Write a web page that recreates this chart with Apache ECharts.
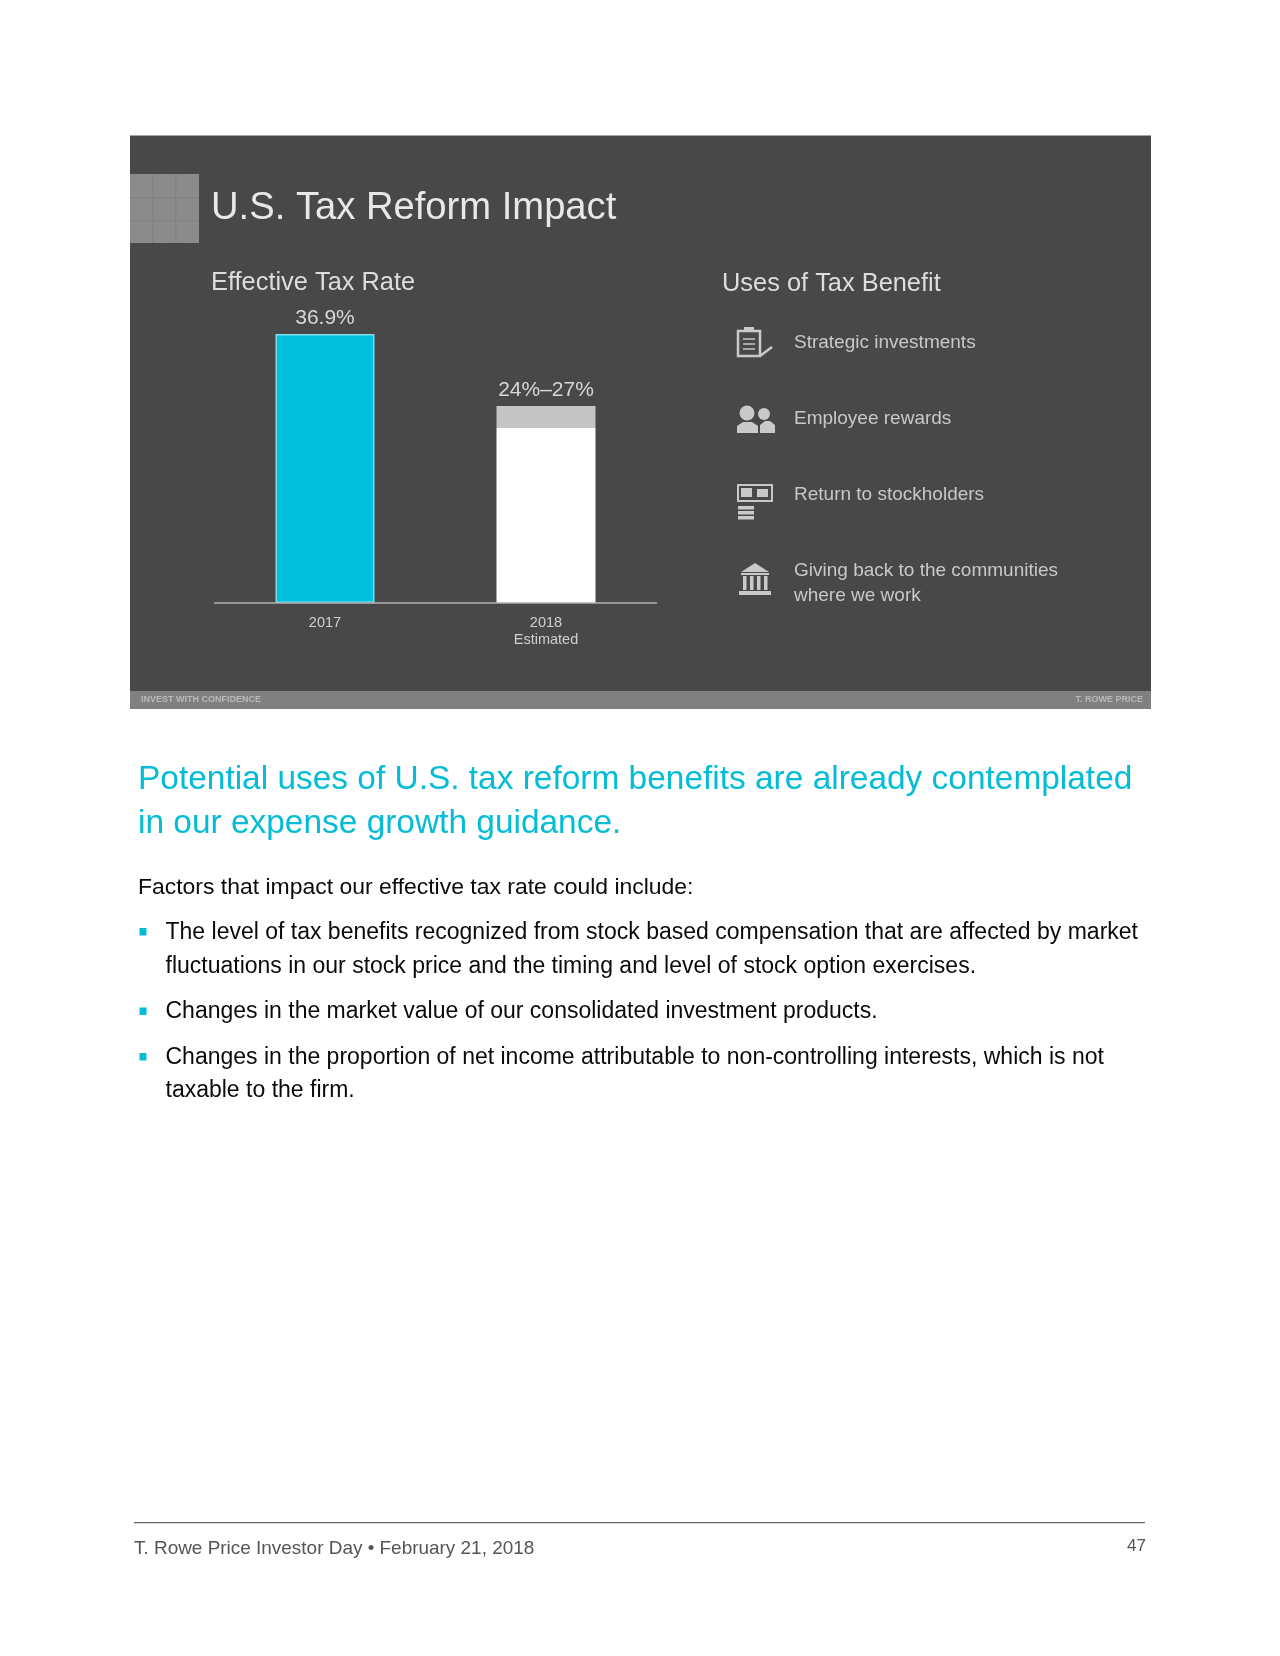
<!DOCTYPE html>
<html><head><meta charset="utf-8">
<style>html,body{margin:0;padding:0;background:#fff}#c{width:1280px;height:1656px}</style>
<script src="https://cdn.jsdelivr.net/npm/echarts@6/dist/echarts.min.js"></script>
</head><body><div id="c"></div>
<script>
const categories = ['2017', '2018\nEstimated'];
const baseValues = [36.9, 24];
const rangeValues = [null, 3];
const valueLabels = ['36.9%', '24%–27%'];
const slideTitle = 'U.S. Tax Reform Impact';
const chartTitle = 'Effective Tax Rate';
const usesTitle = 'Uses of Tax Benefit';
const usesItems = ['Strategic investments', 'Employee rewards', 'Return to stockholders', 'Giving back to the communities', 'where we work'];
const headingLines = ['Potential uses of U.S. tax reform benefits are already contemplated', 'in our expense growth guidance.'];
const introLine = 'Factors that impact our effective tax rate could include:';
const bulletLines = ['The level of tax benefits recognized from stock based compensation that are affected by market', 'fluctuations in our stock price and the timing and level of stock option exercises.', 'Changes in the market value of our consolidated investment products.', 'Changes in the proportion of net income attributable to non-controlling interests, which is not', 'taxable to the firm.'];
const footerLeft = 'T. Rowe Price Investor Day • February 21, 2018';
const footerPage = '47';
const stripLeft = 'INVEST WITH CONFIDENCE';
const stripRight = 'T. ROWE PRICE';

const F = '"Liberation Sans", Arial, sans-serif';
const CYAN = '#00c0e0', TEAL = '#05bcd6';
function txt(text, x, y, size, fill, blur, extra) {
  const style = Object.assign({text, x, y, fontSize:size, fontFamily:F, fill, textAlign:'left'}, blur?{shadowBlur:blur, shadowColor:fill}:{}, extra||{});
  return {type:'text', z:3, style};
}
function rect(x,y,w,h,fill,z){return {type:'rect',z:z===undefined?1:z,shape:{x,y,width:w,height:h},style:{fill}};}
function strokeRect(x,y,w,h,c,lw){return {type:'rect',z:3,shape:{x,y,width:w,height:h},style:{fill:'none',stroke:c,lineWidth:lw}};}
function circ(cx,cy,r,c){return {type:'circle',z:3,shape:{cx,cy,r},style:{fill:c}};}
function line(x1,y1,x2,y2,c,lw){return {type:'line',z:3,shape:{x1,y1,x2,y2},style:{stroke:c,lineWidth:lw}};}
function poly(points,c){return {type:'polygon',z:3,shape:{points},style:{fill:c}};}

const IC = '#c9c9c9';
const g = [];
g.push(rect(130,135.5,1021,573.5,'#484848',0));
g.push(rect(130,691,1021,18,'#808080',1));
g.push(rect(130,174,69,69,'#8b8b8b',1));
[152,175].forEach(x=>g.push(rect(x,174,1.5,69,'#838383',2)));
[197,220].forEach(y=>g.push(rect(130,y,69,1.5,'#838383',2)));
g.push(txt(slideTitle,211,189,38.2,'#e8e8e8',1.5));
g.push(txt(chartTitle,211,270.5,25.4,'#dddddd',1));
g.push(txt(usesTitle,722,271.5,25.4,'#dddddd',1));
const ys = [333,409,485,561,586];
usesItems.forEach((t,i)=>g.push(txt(t,794,ys[i],19,'#c8c8c8',1)));
g.push(txt(stripLeft,141,695,9,'#b8b8b8',2,{fontWeight:'bold'}));
g.push(txt(stripRight,1143,695,9,'#b8b8b8',2,{fontWeight:'bold',textAlign:'right'}));
// icons
g.push(strokeRect(738,331,22,25,IC,2.5), rect(744,327,10,5,IC,3));
[339,344,349].forEach(y=>g.push(line(743,y,755,y,IC,1.5)));
g.push(line(760,356,772,347,IC,2.5));
g.push(circ(747,413,7.5,IC), poly([[737,433],[737,426],[743,422],[752,422],[758,426],[758,433]],IC));
g.push(circ(764,414,6,IC), poly([[760,433],[760,425],[765,421],[770,421],[775,425],[775,433]],IC));
g.push(strokeRect(738,485,34,16,IC,2), rect(741,488,11,9,IC,3), rect(757,489,11,8,IC,3));
[506,511,516].forEach(y=>g.push(rect(738,y,16,3.5,IC,3)));
g.push(poly([[741,572],[755,563],[769,572]],IC), rect(741,573,28,2,IC,3));
[744,751,758,765].forEach(x=>g.push(rect(x-1,576,3.5,14,IC,3)));
g.push(rect(739,591,32,4,IC,3));
// lower text
headingLines.forEach((t,i)=>g.push(txt(t,138,[763,807][i],33.45,TEAL)));
g.push(txt(introLine,138,876,22.95,'#0a0a0a'));
const bys=[921.5,955,1000.5,1046.5,1079];
bulletLines.forEach((t,i)=>g.push(txt(t,165.5,bys[i],23,'#0a0a0a')));
[932,1011.5,1057].forEach(y=>g.push(rect(139.5,y-4,7,7.5,TEAL,3)));
g.push(rect(134,1522,1011,1.2,'#666666',3));
g.push(txt(footerLeft,134,1539.5,18.95,'#555555'));
g.push(txt(footerPage,1146,1538,17,'#555555',0,{textAlign:'right'}));

const chart = echarts.init(document.getElementById('c'),null,{renderer:'canvas',width:1280,height:1656});
chart.setOption({
  animation:false,
  backgroundColor:'#ffffff',
  graphic:{elements:g},
  grid:{left:214.5,top:311.3,width:442,height:291.6,containLabel:false},
  xAxis:{type:'category',data:categories,z:6,
    axisLine:{lineStyle:{color:'#b0b0b0',width:1.5}},axisTick:{show:false},
    axisLabel:{color:'#cfcfcf',fontSize:14.5,fontFamily:F,margin:12,lineHeight:17}},
  yAxis:{type:'value',min:0,max:40,show:false,splitLine:{show:false}},
  series:[
    {type:'bar',stack:'r',z:5,barWidth:99,data:baseValues.map((v,i)=>({value:v,
        itemStyle:i===0?{color:CYAN,borderColor:'#7fdde8',borderWidth:1.5}:{color:'#ffffff'},
        label:i===0?{show:true,position:'top',distance:5,formatter:valueLabels[0],color:'#d8d8d8',fontSize:21,fontFamily:F}:{show:false}}))},
    {type:'bar',stack:'r',z:5,barWidth:99,data:rangeValues.map((v,i)=>({value:v,
        itemStyle:{color:'#c4c4c4'},
        label:i===1?{show:true,position:'top',distance:5,formatter:valueLabels[1],color:'#d8d8d8',fontSize:21,fontFamily:F}:{show:false}}))}
  ]
});
</script></body></html>
